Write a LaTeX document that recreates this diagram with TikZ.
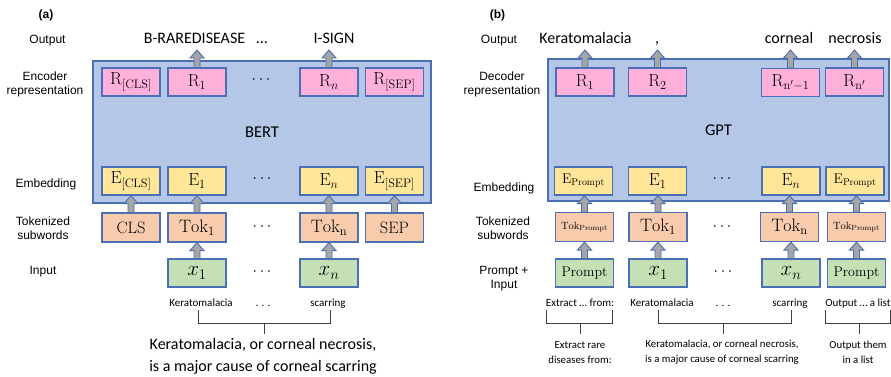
\RequirePackage{fix-cm}
\documentclass[tikz,border=0pt]{standalone}
\usepackage{fontspec}
\newfontfamily\arialf{Liberation Sans}
\newfontfamily\calf{Carlito}
\usetikzlibrary{calc}
\definecolor{bigfill}{HTML}{B4C7E7}
\definecolor{bord}{HTML}{4A6FB5}
\definecolor{pinkf}{HTML}{FFB1DB}
\definecolor{yelf}{HTML}{FFE699}
\definecolor{peachf}{HTML}{F8CBAD}
\definecolor{greenf}{HTML}{C5E0B4}
\definecolor{arrg}{HTML}{A5A5A5}
\tikzset{
  box/.style={draw=bord, line width=1.1pt, minimum width=58pt, minimum height=28pt, inner sep=0pt, font=\fontsize{17.5}{19}\selectfont},
  rbox/.style={box, fill=pinkf},
  ebox/.style={box, fill=yelf},
  tbox/.style={box, fill=peachf, minimum height=29pt, font=\fontsize{18}{20}\selectfont},
  ibox/.style={box, fill=greenf, font=\fontsize{21}{23}\selectfont},
  bigbox/.style={draw=bord, fill=bigfill, line width=1.1pt, inner sep=0pt, font=\calf\fontsize{16.5}{19}\selectfont},
  rowlab/.style={font=\arialf\fontsize{12}{14}\selectfont, align=center, inner sep=0pt},
  panlab/.style={font=\arialf\bfseries\fontsize{12}{14}\selectfont, inner sep=0pt},
  outlab/.style={font=\calf\fontsize{16}{19}\selectfont, inner sep=0pt, anchor=base},
  smalllab/.style={font=\calf\fontsize{11}{13}\selectfont, inner sep=0pt, anchor=base},
  bigtxt/.style={font=\calf\fontsize{16}{22}\selectfont, align=center, inner sep=0pt},
  midtxt/.style={font=\calf\fontsize{10.8}{14.7}\selectfont, align=center, inner sep=0pt},
  dotsn/.style={font=\fontsize{16}{18}\selectfont, inner sep=0pt},
  arr/.style={fill=arrg, draw=bord, line width=0.9pt, line join=miter},
  brk/.style={draw=black!75, line width=1pt},
}
\newcommand\barrow[2]{%
  \path[arr] let \p1=(#1), \p2=(#2) in
    (\x1-3pt,\y1) -- (\x1-3pt,\y2-8pt) -- (\x1-7pt,\y2-8pt) -- (\x1,\y2)
    -- (\x1+7pt,\y2-8pt) -- (\x1+3pt,\y2-8pt) -- (\x1+3pt,\y1) -- cycle;}
\begin{document}
\begin{tikzpicture}[x=1pt,y=-1pt]
\useasboundingbox[fill=white] (0,0) rectangle (891,376);

% ================= panel (a) =================
\node[panlab] (pa) at (46,15) {(a)};
\node[rowlab, anchor=base] (laout) at (47.5,43) {Output};
\node[rowlab] (laenc) at (45,84) {Encoder\\representation};
\node[rowlab, anchor=base] (laemb) at (46,187) {Embedding};
\node[rowlab] (latok) at (43,228) {Tokenized\\subwords};
\node[rowlab, anchor=base] (lain) at (43,274) {Input};

\node[bigbox, minimum width=338pt, minimum height=142pt] (bert) at (262,132) {BERT};

\node[rbox] (ra0) at (131,82) {$\mathrm{R}_{[\mathrm{CLS}]}$};
\node[rbox] (ra1) at (197,82) {$\mathrm{R}_1$};
\node[dotsn] (rad) at (261,80) {$\cdots$};
\node[rbox] (ran) at (329,82) {$\mathrm{R}_n$};
\node[rbox] (ra9) at (394.5,82) {$\mathrm{R}_{[\mathrm{SEP}]}$};

\node[ebox] (ea0) at (131,181) {$\mathrm{E}_{[\mathrm{CLS}]}$};
\node[ebox] (ea1) at (197,181) {$\mathrm{E}_1$};
\node[dotsn] (ead) at (262,179) {$\cdots$};
\node[ebox] (ean) at (329,181) {$\mathrm{E}_n$};
\node[ebox] (ea9) at (394.5,181) {$\mathrm{E}_{[\mathrm{SEP}]}$};

\node[tbox, font=\fontsize{16.5}{18}\selectfont] (ta0) at (131,227.5) {CLS};
\node[tbox] (ta1) at (197,227.5) {$\mathrm{Tok}_1$};
\node[dotsn] (tad) at (262,227) {$\cdots$};
\node[tbox] (tan) at (329,227.5) {$\mathrm{Tok}_\mathrm{n}$};
\node[tbox, font=\fontsize{16.5}{18}\selectfont] (ta9) at (394.5,227.5) {SEP};

\node[ibox] (ia1) at (197,273) {$x_1$};
\node[dotsn] (iad) at (262,272) {$\cdots$};
\node[ibox] (ian) at (329,273) {$x_n$};

\node[outlab] (oa1) at (194.5,43.5) {B-RAREDISEASE};
\node[outlab] (oad) at (262,43.5) {\ldots};
\node[outlab] (oan) at (334,43.5) {I-SIGN};
\coordinate (tipa1) at (197,50);
\coordinate (tipan) at (329,50);

\barrow{ra1.north}{tipa1}
\barrow{ran.north}{tipan}
\barrow{ta0.north}{ea0.south}
\barrow{ta1.north}{ea1.south}
\barrow{tan.north}{ean.south}
\barrow{ta9.north}{ea9.south}
\barrow{ia1.north}{ta1.south}
\barrow{ian.north}{tan.south}

\node[smalllab] (ka) at (201,306) {Keratomalacia};
\node[smalllab] (kd) at (263,306) {. . .};
\node[smalllab] (ks) at (328,306) {scarring};
\draw[brk] (198,310) -- (198,323) -- (330,323) -- (330,310);
\draw[brk] (264,323) -- (264,334);
\node[bigtxt] (senta) at (263,356) {Keratomalacia, or corneal necrosis,\\is a major cause of corneal scarring};

% ================= panel (b) =================
\node[panlab] (pb) at (497.5,15) {(b)};
\node[rowlab, anchor=base] (lbout) at (499,43) {Output};
\node[rowlab] (lbdec) at (502,84) {Decoder\\representation};
\node[rowlab, anchor=base] (lbemb) at (504,191) {Embedding};
\node[rowlab] (lbtok) at (503,228) {Tokenized\\subwords};
\node[rowlab] (lbin) at (504,279) {Prompt +\\Input};

\node[bigbox, minimum width=341pt, minimum height=142pt] (gpt) at (718.5,130) {GPT};

\node[rbox] (rb1) at (585,82) {$\mathrm{R}_1$};
\node[rbox] (rb2) at (657.5,82) {$\mathrm{R}_2$};
\node[rbox] (rb3) at (790.5,82.5) {$\mathrm{R}_{\mathrm{n}'-1}$};
\node[rbox] (rb4) at (854.5,82) {$\mathrm{R}_{\mathrm{n}'}$};

\node[ebox, font=\fontsize{14}{16}\selectfont] (eb0) at (583.5,181) {$\mathrm{E}_{\mathrm{Prompt}}$};
\node[ebox] (eb1) at (657.5,181) {$\mathrm{E}_1$};
\node[dotsn] (ebd) at (722,179) {$\cdots$};
\node[ebox] (ebn) at (791,181) {$\mathrm{E}_n$};
\node[ebox, font=\fontsize{14}{16}\selectfont] (eb9) at (855,181) {$\mathrm{E}_{\mathrm{Prompt}}$};

\node[tbox, font=\fontsize{10.5}{12}\selectfont] (tb0) at (584.5,227) {$\mathrm{Tok}_{\mathrm{Prompt}}$};
\node[tbox] (tb1) at (658,227) {$\mathrm{Tok}_1$};
\node[dotsn] (tbd) at (722,227) {$\cdots$};
\node[tbox] (tbn) at (789.5,227) {$\mathrm{Tok}_\mathrm{n}$};
\node[tbox, font=\fontsize{10.5}{12}\selectfont] (tb9) at (856.5,227) {$\mathrm{Tok}_{\mathrm{Prompt}}$};

\node[ibox, font=\fontsize{14}{16}\selectfont] (ib0) at (584.5,273) {Prompt};
\node[ibox] (ib1) at (658,273) {$x_1$};
\node[dotsn] (ibd) at (723,272) {$\cdots$};
\node[ibox] (ibn) at (791,273) {$x_n$};
\node[ibox, font=\fontsize{14}{16}\selectfont] (ib9) at (856.5,273) {Prompt};

\node[outlab] (ob1) at (585.5,43.5) {Keratomalacia};
\node[outlab] (ob2) at (657,43.5) {,};
\node[outlab] (ob3) at (789,43.5) {corneal};
\node[outlab] (ob4) at (855,43.5) {necrosis};
\coordinate (tipb1) at (585,50);
\coordinate (tipb2) at (657.5,50);
\coordinate (tipb3) at (790.5,50);
\coordinate (tipb4) at (854.5,50);

\barrow{rb1.north}{tipb1}
\barrow{rb2.north}{tipb2}
\barrow{rb3.north}{tipb3}
\barrow{rb4.north}{tipb4}
\barrow{tb0.north}{eb0.south}
\barrow{tb1.north}{eb1.south}
\barrow{tbn.north}{ebn.south}
\barrow{tb9.north}{eb9.south}
\barrow{ib0.north}{tb0.south}
\barrow{ib1.north}{tb1.south}
\barrow{ibn.north}{tbn.south}
\barrow{ib9.north}{tb9.south}

\node[smalllab] (lx0) at (580,306) {Extract \ldots\ from:};
\node[smalllab] (lx1) at (662,306) {Keratomalacia};
\node[smalllab] (lxd) at (723,306) {. . .};
\node[smalllab] (lxn) at (790,306) {scarring};
\node[smalllab] (lx9) at (858,306) {Output \ldots\ a list};
\draw[brk] (546,310) -- (546,323) -- (612,323) -- (612,310);
\draw[brk] (580,323) -- (580,334);
\draw[brk] (658,310) -- (658,323) -- (791,323) -- (791,310);
\draw[brk] (723,323) -- (723,334);
\draw[brk] (825,310) -- (825,323) -- (890,323) -- (890,310);
\draw[brk] (859,323) -- (859,334);

\node[midtxt] (sb0) at (580,352.5) {Extract rare\\diseases from:};
\node[midtxt] (sb1) at (722,352.5) {Keratomalacia, or corneal necrosis,\\is a major cause of corneal scarring};
\node[midtxt] (sb9) at (858,352.5) {Output them\\in a list};
\end{tikzpicture}
\end{document}
